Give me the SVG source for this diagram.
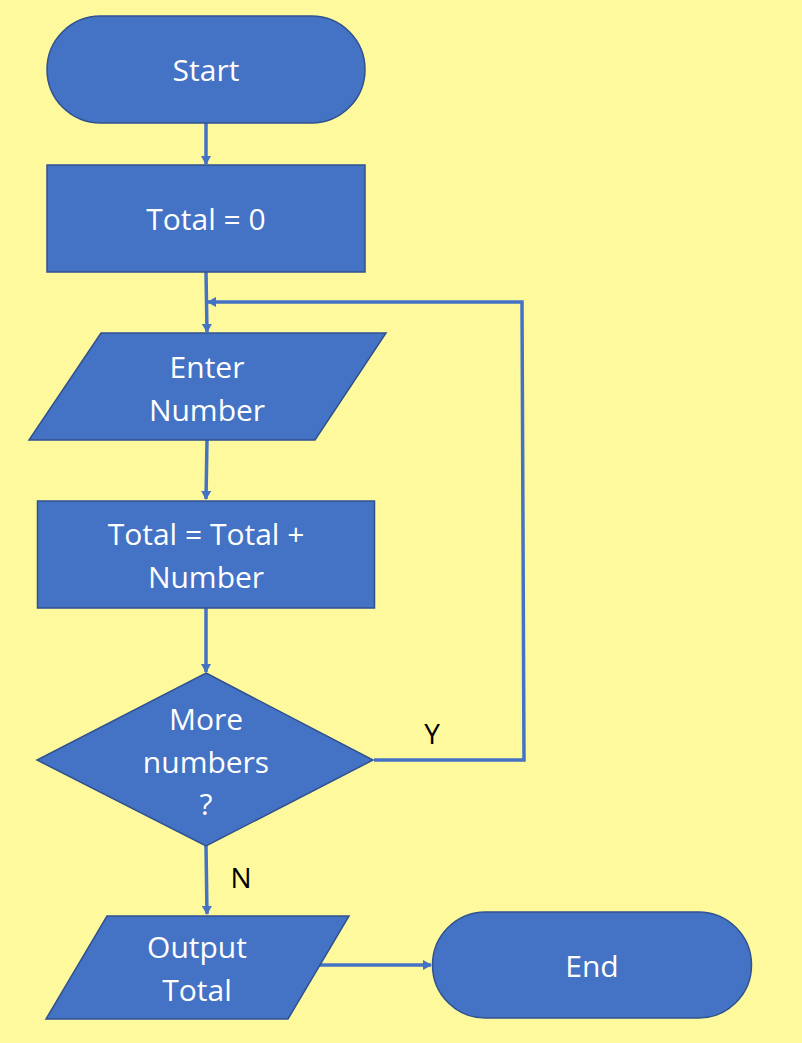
<svg xmlns="http://www.w3.org/2000/svg" width="802" height="1043" viewBox="0 0 802 1043">
<defs>
<marker id="ah" markerWidth="10" markerHeight="10" refX="8" refY="5" orient="auto" markerUnits="userSpaceOnUse">
<path d="M0,0 L9,5 L0,10 Z" fill="#4472C4"/>
</marker>
<style>
.n{fill:#4472C4;stroke:#2F528F;stroke-width:1.5}
.t{fill:#fff;font-family:"Open Sans","Liberation Sans",sans-serif;font-size:30px;text-anchor:middle}
.l{fill:#000;font-family:"Open Sans","Liberation Sans",sans-serif;font-size:28px;text-anchor:middle}
.c{fill:none;stroke:#4472C4;stroke-width:3.5}
</style>
</defs>
<rect width="802" height="1043" fill="#FFF99D"/>
<g id="connectors">
<line class="c" x1="206" y1="123" x2="206" y2="164" marker-end="url(#ah)"/>
<line class="c" x1="206" y1="272" x2="207" y2="332" marker-end="url(#ah)"/>
<polyline class="c" points="374,760 524,760 522,302 208,302" marker-end="url(#ah)"/>
<line class="c" x1="207" y1="440" x2="206" y2="499" marker-end="url(#ah)"/>
<line class="c" x1="206" y1="608" x2="206" y2="672" marker-end="url(#ah)"/>
<line class="c" x1="206" y1="846" x2="207" y2="914" marker-end="url(#ah)"/>
<line class="c" x1="318" y1="965" x2="431" y2="965" marker-end="url(#ah)"/>
<text class="l" x="432" y="744">Y</text>
<text class="l" x="241" y="888">N</text>
</g>
<g id="start">
<rect class="n" x="47" y="16" width="318" height="107" rx="53.5"/>
<text class="t" x="206" y="81">Start</text>
</g>
<g id="total0">
<rect class="n" x="47" y="165" width="318" height="107"/>
<text class="t" x="206" y="230">Total = 0</text>
</g>
<g id="enter">
<polygon class="n" points="101,333 386,333 315,440 29,440"/>
<text class="t" x="207" y="378">Enter</text>
<text class="t" x="207" y="421">Number</text>
</g>
<g id="add">
<rect class="n" x="37.5" y="501" width="337" height="107"/>
<text class="t" x="206" y="545">Total = Total +</text>
<text class="t" x="206" y="588">Number</text>
</g>
<g id="decision">
<polygon class="n" points="206,673 373,760 206,846 37,760"/>
<text class="t" x="206" y="730">More</text>
<text class="t" x="206" y="773">numbers</text>
<text class="t" x="206" y="815">?</text>
</g>
<g id="output">
<polygon class="n" points="107,916 349,916 288,1019 46,1019"/>
<text class="t" x="197" y="958">Output</text>
<text class="t" x="197" y="1001">Total</text>
</g>
<g id="end">
<rect class="n" x="432.5" y="912" width="319" height="106" rx="53"/>
<text class="t" x="592" y="977">End</text>
</g>
</svg>
